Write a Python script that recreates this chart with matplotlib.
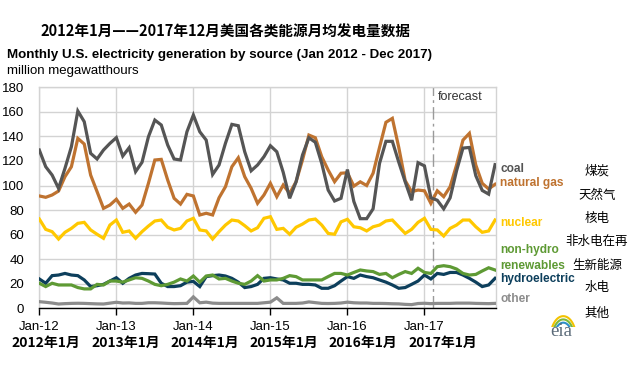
import numpy as np
import matplotlib.pyplot as plt

# monthly values, Jan 2012 .. Dec 2017 (million MWh)
coal = [128.9, 115.3, 108.5, 97.7, 114.0, 131.6, 160.7, 152.0, 126.2, 121.6, 128.9, 134.3,
        139.0, 124.0, 130.8, 111.3, 118.9, 139.7, 153.3, 149.3, 133.0, 121.6, 120.8, 143.8,
        157.4, 143.8, 137.0, 109.0, 116.7, 134.4, 149.8, 148.7, 127.5, 112.0, 116.7, 123.5,
        132.4, 127.5, 110.7, 89.6, 103.0, 124.8, 138.9, 135.2, 118.0, 96.3, 87.4, 89.6,
        113.0, 87.0, 73.0, 73.0, 81.0, 118.0, 136.0, 136.0, 119.0, 103.0, 88.0, 118.6,
        116.0, 90.0, 88.0, 81.0, 90.0, 112.0, 130.5, 131.0, 108.0, 96.0, 93.0, 117.0]
gas = [91.5, 90.4, 92.3, 95.5, 107.2, 115.3, 138.4, 133.8, 108.5, 95.0, 81.4, 84.1,
       88.8, 81.4, 84.9, 78.2, 84.1, 101.8, 120.8, 121.3, 104.5, 89.6, 84.9, 92.8,
       91.5, 76.0, 77.4, 76.0, 90.0, 99.0, 115.3, 122.6, 107.2, 97.7, 85.5, 92.3,
       101.8, 90.9, 100.4, 93.6, 103.1, 120.8, 141.1, 138.9, 123.4, 112.6, 103.1, 110.0,
       110.4, 99.5, 103.0, 100.0, 110.0, 131.0, 151.5, 154.7, 131.0, 104.0, 95.0, 96.3,
       95.7, 85.5, 95.7, 90.9, 99.0, 116.7, 137.0, 142.5, 116.7, 101.8, 97.2, 101.0]
nuclear = [72.7, 64.3, 62.4, 56.4, 61.9, 65.1, 69.2, 70.0, 63.8, 60.3, 57.0, 67.8,
           71.9, 61.9, 63.0, 57.0, 62.4, 67.0, 71.1, 71.9, 66.0, 63.8, 65.1, 71.1,
           73.3, 63.8, 63.0, 56.4, 62.4, 67.8, 71.9, 71.1, 67.3, 63.0, 65.6, 73.3,
           74.6, 64.3, 65.1, 60.3, 66.0, 68.6, 71.9, 72.7, 67.8, 61.0, 60.3, 70.4,
           72.5, 66.4, 65.6, 63.0, 66.4, 67.8, 71.1, 71.9, 66.4, 61.0, 64.3, 70.0,
           73.3, 64.3, 63.8, 58.9, 65.1, 67.8, 71.9, 71.9, 66.4, 61.9, 63.0, 71.9]
renewables = [20.4, 17.7, 20.4, 19.0, 19.0, 19.0, 16.9, 15.8, 15.8, 19.5, 19.0, 22.2,
              22.2, 21.3, 23.1, 24.9, 24.4, 22.2, 19.5, 18.4, 19.5, 21.3, 23.9, 22.2,
              26.3, 21.3, 26.3, 27.1, 23.9, 24.4, 22.2, 20.4, 19.5, 22.2, 26.6, 22.2,
              23.1, 23.1, 24.4, 26.6, 25.8, 23.1, 23.1, 23.1, 23.1, 25.8, 28.4, 28.4,
              27.1, 29.2, 31.2, 30.4, 29.9, 27.6, 28.4, 24.9, 27.6, 29.9, 28.4, 32.6,
              29.2, 28.4, 33.9, 34.7, 33.9, 32.0, 28.4, 27.1, 27.6, 30.4, 33.0, 31.2]
hydro = [23.9, 20.4, 26.6, 27.1, 28.4, 27.1, 26.6, 23.1, 17.7, 18.4, 19.5, 22.2,
         24.9, 20.4, 24.4, 27.1, 28.4, 28.2, 27.9, 20.4, 17.7, 17.7, 18.4, 21.3,
         21.9, 17.7, 25.8, 26.6, 27.1, 26.3, 24.4, 21.3, 16.9, 17.7, 19.5, 24.4,
         24.9, 23.9, 23.1, 20.4, 20.4, 19.5, 19.5, 19.0, 16.3, 16.3, 18.4, 22.2,
         25.8, 24.4, 27.1, 25.8, 24.9, 23.1, 21.3, 19.0, 16.3, 16.9, 19.5, 22.2,
         27.1, 23.9, 28.4, 27.6, 29.2, 29.2, 27.1, 24.4, 21.3, 17.7, 19.0, 24.4]
other = [5.4, 4.9, 4.3, 3.5, 3.8, 4.0, 4.1, 4.0, 3.8, 3.6, 3.5, 4.2,
         4.9, 4.3, 4.4, 4.0, 4.0, 4.5, 4.5, 4.3, 4.0, 3.8, 3.9, 4.0,
         9.3, 4.5, 5.0, 4.2, 4.0, 4.0, 4.0, 4.0, 4.0, 4.0, 4.0, 4.5,
         5.0, 8.5, 4.0, 4.0, 4.0, 4.3, 5.2, 4.6, 4.0, 3.9, 4.0, 4.3,
         5.0, 4.5, 4.3, 4.3, 4.0, 4.0, 3.9, 3.7, 3.6, 3.2, 3.0, 3.9,
         4.1, 3.8, 4.0, 4.0, 4.0, 4.2, 4.2, 4.2, 4.0, 3.9, 3.8, 4.0]

year_ticks = ['Jan-12', 'Jan-13', 'Jan-14', 'Jan-15', 'Jan-16', 'Jan-17']
year_cn = ['2012年1月', '2013年1月', '2014年1月', '2015年1月', '2016年1月', '2017年1月']

series = [('coal', coal, '#555555'),
          ('natural gas', gas, '#BF7330'),
          ('nuclear', nuclear, '#FFC800'),
          ('non-hydro\nrenewables', renewables, '#5E9A34'),
          ('hydroelectric', hydro, '#0D3F5C'),
          ('other', other, '#8C8C8C')]
cn_labels = ['煤炭', '天然气', '核电', '非水电在再', '生新能源', '水电', '其他']

LAT = 'Liberation Sans'
CJK = ['Noto Sans CJK SC', 'DejaVu Sans']

W, H = 634, 385
fig = plt.figure(figsize=(W / 100, H / 100), dpi=100)
x0, x1, y0, y1 = 39.3, 495.7, 87.3, 308.3
ax = fig.add_axes([x0 / W, 1 - y1 / H, (x1 - x0) / W, (y1 - y0) / H])

months = np.arange(len(coal))
# back to front
for name, vals, col in series[::-1]:
    ax.plot(months, vals, color=col, lw=2.3, solid_joinstyle='miter', zorder=3)

ax.set_xlim(0, 71.1)
ax.set_ylim(0, 180)
ax.set_yticks(range(0, 181, 20))
ax.set_xticks(range(0, 72, 12))
ax.set_xticklabels(year_ticks, fontsize=9.5, family=LAT)
ax.set_yticklabels([str(v) for v in range(0, 181, 20)], fontsize=9.5, family=LAT)
ax.tick_params(axis='y', length=0, pad=11)
ax.tick_params(axis='x', length=5, width=1, color='black', pad=4, direction='out')
ax.grid(True, color='#D3D3D3', lw=1, zorder=0)
for s in ['top', 'right', 'left']:
    ax.spines[s].set_color('#D3D3D3')
    ax.spines[s].set_linewidth(1)
ax.spines['bottom'].set_color('black')
ax.spines['bottom'].set_linewidth(1)
ax.set_axisbelow(True)

# forecast marker
ax.axvline(61.4, color='#9A9A9A', lw=1, ls=(0, (9, 3, 2, 3)), zorder=2)
ax.text(65.5, 172, 'forecast', ha='center', va='center', fontsize=9, family=LAT, color='#333333')

# titles
fig.text(40 / W, 1 - 32 / H, '2012年1月——2017年12月美国各类能源月均发电量数据',
         family=CJK, fontweight='bold', fontsize=10.5, va='center')
fig.text(7 / W, 1 - 55 / H, 'Monthly U.S. electricity generation by source (Jan 2012 - Dec 2017)',
         family=LAT, fontweight='bold', fontsize=9.6, va='center')
fig.text(7 / W, 1 - 71 / H, 'million megawatthours', family=LAT, fontsize=9.5, va='center')

# series labels at right
label_y = [169, 183, 223.5, 258, 278.7, 299.5]
for (name, vals, col), ly in zip(series, label_y):
    fig.text(500.5 / W, 1 - ly / H, name, color=col, fontweight='bold', fontsize=8.6,
             family=LAT, va='center', ha='left', linespacing=1.35)

cn_y = [171.5, 195.5, 218, 241.5, 265, 287.3, 313]
for cn, cy in zip(cn_labels, cn_y):
    fig.text(597 / W, 1 - cy / H, cn, color='black', fontsize=9, family=CJK,
             va='center', ha='center')

# chinese date labels under axis
for i, t in enumerate(year_cn):
    fig.text((46 + 79.3 * i) / W, 1 - 343 / H, t, family=CJK, fontweight='bold',
             fontsize=10, ha='center', va='center')

# eia logo
fig.text(561 / W, 1 - 331 / H, 'eia', family='Liberation Serif', fontsize=13.5,
         color='#5A6A78', ha='center', va='center')
lax = fig.add_axes([548 / W, 1 - 327 / H, 28 / W, 13 / H])
lax.axis('off')
th = np.linspace(0.15 * np.pi, 0.85 * np.pi, 30)
for r, c in [(1.0, '#F2C200'), (0.85, '#7DB83A'), (0.7, '#2E8FC9')]:
    lax.plot(r * np.cos(th) + 0.1, r * np.sin(th) - 0.6, color=c, lw=1.5)
lax.set_xlim(-1.1, 1.1)
lax.set_ylim(-0.1, 0.5)

fig.savefig('out.png', dpi=100)
